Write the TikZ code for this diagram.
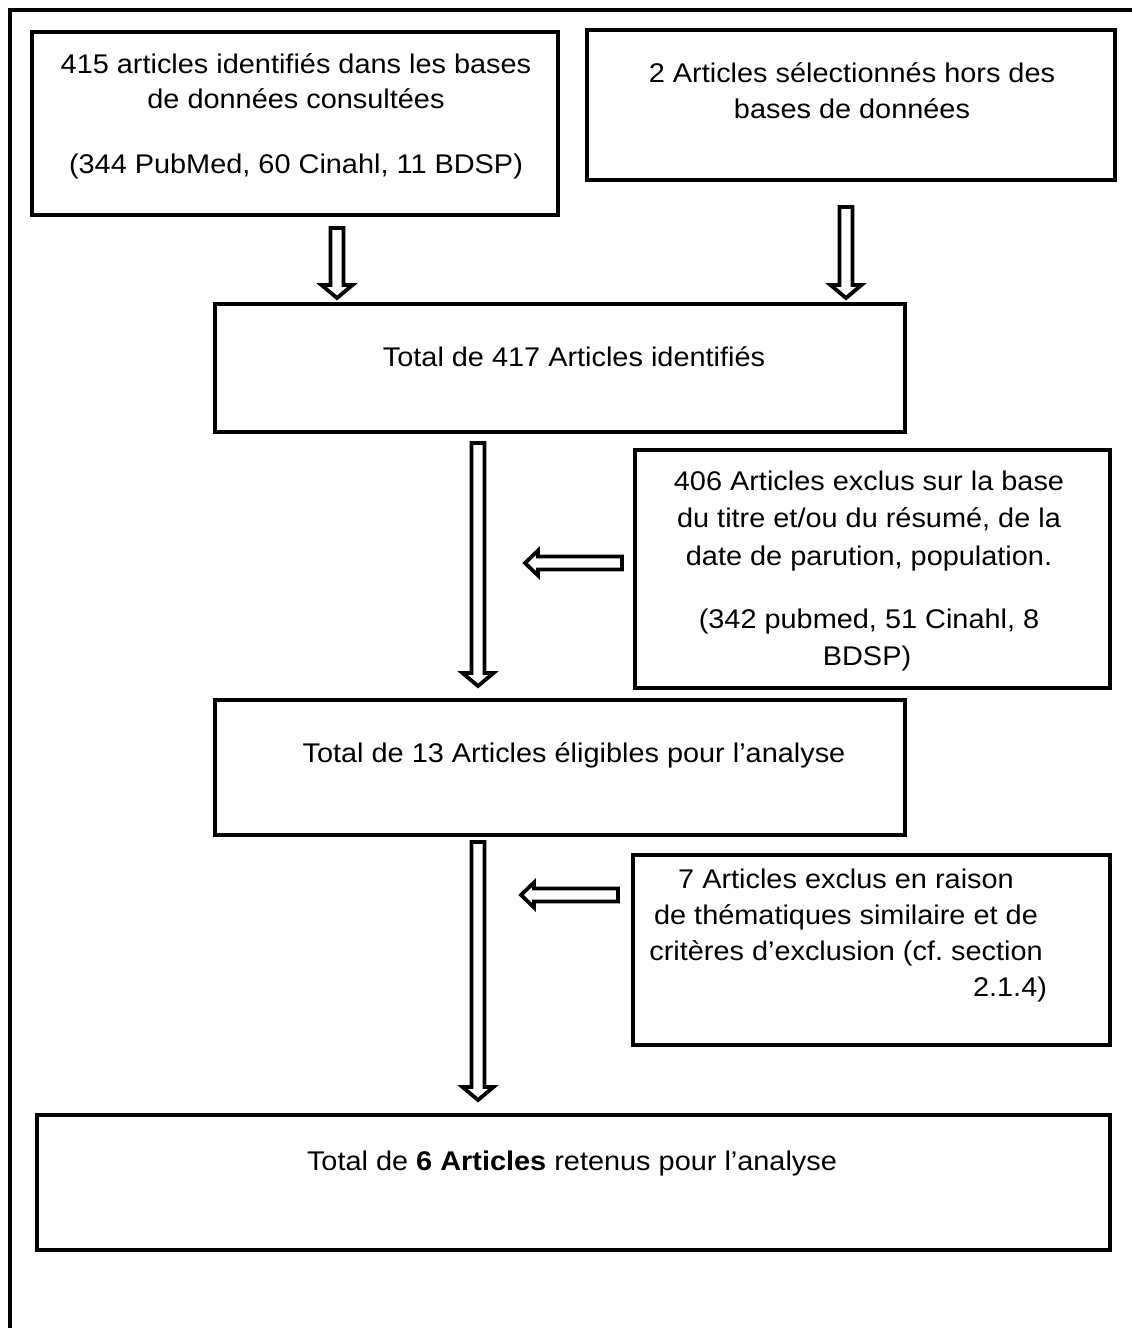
\documentclass[tikz,border=0pt]{standalone}
\usepackage{fontspec}
\setmainfont[FakeStretch=1.07]{Liberation Sans}
\usetikzlibrary{calc}
\newcommand\vhollow[2]{\draw[hollow] ($(#1)+(-6.5,0)$) -- ($(#2)+(-6.5,-13)$) -- ($(#2)+(-15.5,-13)$) -- (#2) -- ($(#2)+(15.5,-13)$) -- ($(#2)+(6.5,-13)$) -- ($(#1)+(6.5,0)$) -- cycle;}
\newcommand\hhollow[2]{\draw[hollow] ($(#1)+(0,-6.5)$) -- ($(#2)+(13,-6.5)$) -- ($(#2)+(13,-12.5)$) -- (#2) -- ($(#2)+(13,12.5)$) -- ($(#2)+(13,6.5)$) -- ($(#1)+(0,6.5)$) -- cycle;}
\begin{document}
\begin{tikzpicture}[x=1pt,y=-1pt,
  box/.style={draw, line width=4.5pt, line join=miter, inner sep=0pt},
  txt/.style={anchor=base, inner sep=0pt, font=\fontsize{27}{37}\selectfont},
  hollow/.style={draw, line width=3.8pt, line join=miter, fill=white},
  frame/.style={line width=4.5pt}]
\useasboundingbox (0,0) rectangle (1132,1328);
% outer frame (cut by the page edge on right and bottom)
\coordinate (fr1) at (1145,10);
\coordinate (fr0) at (10,10);
\coordinate (fr2) at (10,1340);
\draw[frame] (fr1) -- (fr0) -- (fr2);
% boxes
\node[box, minimum width=526, minimum height=183] (b1) at (295,123.5) {};
\node[box, minimum width=528, minimum height=150] (b2) at (851,105) {};
\node[box, minimum width=690, minimum height=128] (b3) at (560,368) {};
\node[box, minimum width=475, minimum height=238] (b4) at (872.5,569) {};
\node[box, minimum width=690, minimum height=135] (b5) at (560,767.5) {};
\node[box, minimum width=477, minimum height=190] (b6) at (871.5,950) {};
\node[box, minimum width=1073, minimum height=135] (b7) at (573.5,1182.5) {};
% texts
\node[txt] (t1a) at (296,73) {415 articles identifiés dans les bases};
\node[txt] (t1b) at (296,108) {de données consultées};
\node[txt] (t1c) at (296,173) {(344 PubMed, 60 Cinahl, 11 BDSP)};
\node[txt] (t2a) at (852,82) {2 Articles sélectionnés hors des};
\node[txt] (t2b) at (852,118) {bases de données};
\node[txt] (t3) at (574,366) {Total de 417 Articles identifiés};
\node[txt] (t4a) at (869,490) {406 Articles exclus sur la base};
\node[txt] (t4b) at (869,527) {du titre et/ou du résumé, de la};
\node[txt] (t4c) at (869,565) {date de parution, population.};
\node[txt] (t4d) at (869,628) {(342 pubmed, 51 Cinahl, 8};
\node[txt] (t4e) at (867,665) {BDSP)};
\node[txt] (t5) at (574,762) {Total de 13 Articles éligibles pour l’analyse};
\node[txt] (t6a) at (846,888) {7 Articles exclus en raison};
\node[txt] (t6b) at (846,924) {de thématiques similaire et de};
\node[txt] (t6c) at (846,960) {critères d’exclusion (cf.\ section};
\node[txt] (t6d) at (1010,996) {2.1.4)};
\node[txt] (t7) at (572,1170) {Total de \textbf{6 Articles} retenus pour l’analyse};
% arrows
\coordinate (a1s) at (337,228);  \coordinate (a1e) at (337,298);
\coordinate (a2s) at (846,207);  \coordinate (a2e) at (846,298);
\coordinate (a3s) at (478,443);  \coordinate (a3e) at (478,686);
\coordinate (a4s) at (478,842);  \coordinate (a4e) at (478,1100);
\coordinate (l1s) at (622,563);  \coordinate (l1e) at (525,563);
\coordinate (l2s) at (618,895);  \coordinate (l2e) at (521,895);
\vhollow{a1s}{a1e}
\vhollow{a2s}{a2e}
\vhollow{a3s}{a3e}
\vhollow{a4s}{a4e}
\hhollow{l1s}{l1e}
\hhollow{l2s}{l2e}
\end{tikzpicture}
\end{document}
